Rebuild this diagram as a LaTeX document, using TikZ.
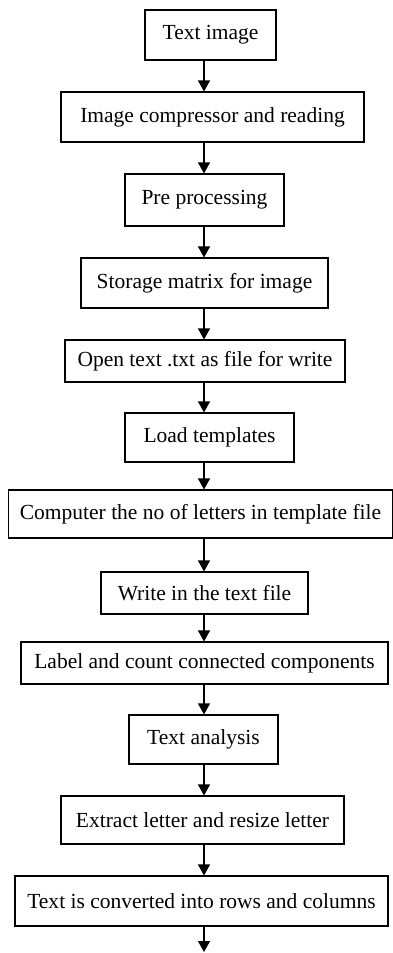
\documentclass[tikz,border=0pt]{standalone}
\usepackage{fontspec}
\setmainfont{Liberation Serif}
\usetikzlibrary{arrows.meta,positioning}
\tikzset{
  stepbox/.style={draw=black,line width=1.1pt,align=center,inner sep=2pt,
                  font=\fontsize{21.5}{24}\selectfont},
  ar/.style={-{Triangle[length=11pt,width=12pt]},line width=1.1pt,black},
}
\begin{document}
\begin{tikzpicture}[x=1pt,y=-1pt]
  \useasboundingbox (0,0) rectangle (393,953);
  \coordinate (spine) at (204,0);
  \node[stepbox,minimum width=131pt,minimum height=50pt] (img) at (210.5,35) {Text image};
  \node[stepbox,minimum width=303pt,minimum height=50pt] (comp) at (212.5,117) {Image compressor and reading};
  \node[stepbox,minimum width=159pt,minimum height=52pt] (pre) at (204.5,200) {Pre processing};
  \node[stepbox,minimum width=247pt,minimum height=50pt] (mat) at (204.5,283) {Storage matrix for image};
  \node[stepbox,minimum width=280pt,minimum height=42pt] (open) at (205,361) {Open text .txt as file for write};
  \node[stepbox,minimum width=169pt,minimum height=49pt] (tmpl) at (209.5,437.5) {Load templates};
  \node[stepbox,minimum width=384pt,minimum height=48pt] (cnt) at (200.5,514) {Computer the no of letters in template file};
  \node[stepbox,minimum width=207pt,minimum height=42pt] (wrt) at (204.5,593) {Write in the text file};
  \node[stepbox,minimum width=367pt,minimum height=42pt] (lbl) at (204.5,663) {Label and count connected components};
  \node[stepbox,minimum width=149pt,minimum height=49pt] (ana) at (203.5,739.5) {Text analysis};
  \node[stepbox,minimum width=283pt,minimum height=48pt] (ext) at (202.5,820) {Extract letter and resize letter};
  \node[stepbox,minimum width=373pt,minimum height=50pt] (rows) at (201.5,901) {Text is converted into rows and columns};
  \coordinate (out) at (204,952);
  % connectors along the spine
  \foreach \a/\b in {img/comp,comp/pre,pre/mat,mat/open,open/tmpl,tmpl/cnt,cnt/wrt,wrt/lbl,lbl/ana,ana/ext,ext/rows}
    \draw[ar] (\a.south -| spine) -- (\b.north -| spine);
  \draw[ar] (rows.south -| spine) -- (out);
\end{tikzpicture}
\end{document}
